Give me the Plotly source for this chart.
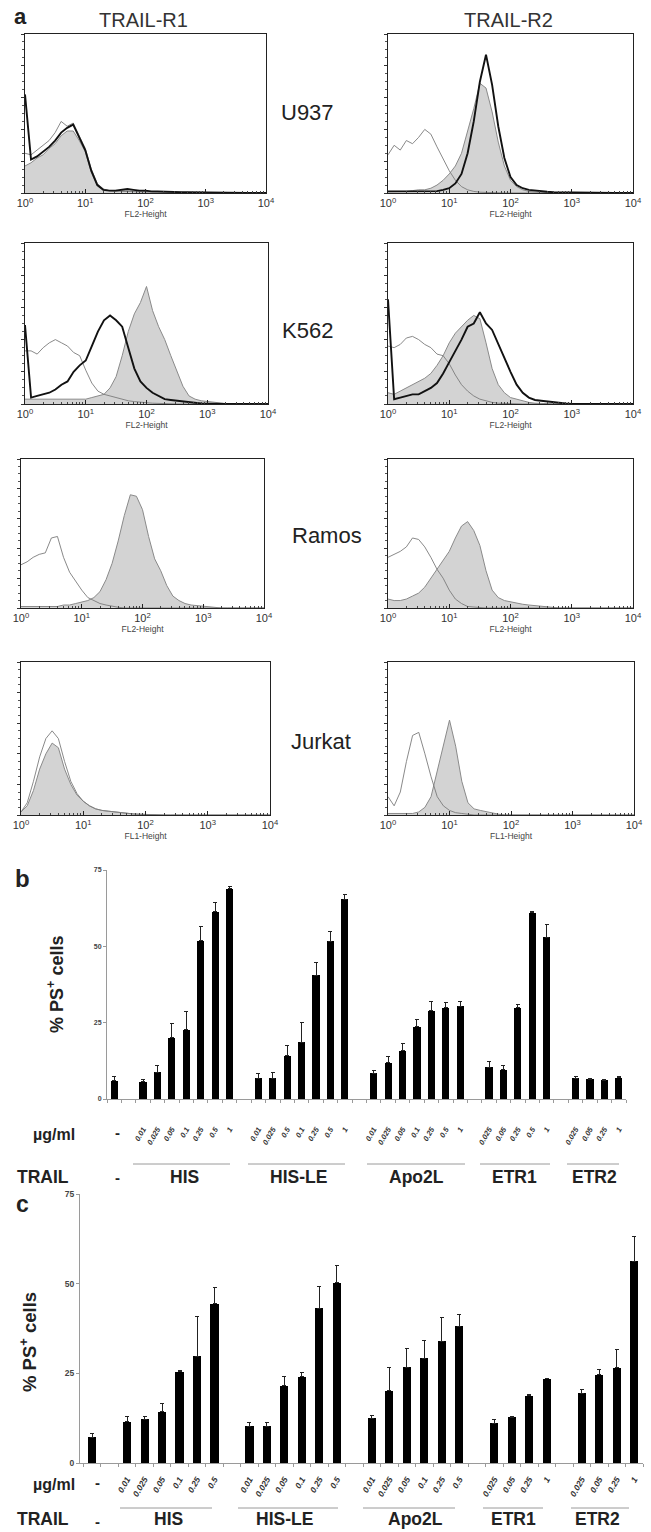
import plotly.graph_objects as go

W, H = 651, 1532
FONT = "Liberation Sans, Arial, Helvetica, sans-serif"

# ---------------- panel a : flow cytometry histograms ----------------
# bin positions in log10 decades (10^0 .. 10^4)
LOG_BINS = [0.0, 0.1, 0.2, 0.3, 0.4, 0.5, 0.6, 0.7, 0.8, 0.9,
            1.0, 1.1, 1.2, 1.3, 1.4, 1.5, 1.6, 1.7, 1.8, 1.9,
            2.0, 2.1, 2.2, 2.3, 2.4, 2.5, 2.6, 2.7, 2.8, 2.9,
            3.0, 3.1, 3.2, 3.3, 3.4, 3.5, 3.6, 3.7, 3.8, 3.9,
            4.0]
DECADE_TICKS = [1, 10, 100, 1000, 10000]
DECADE_TEXT = ["10<sup>0</sup>", "10<sup>1</sup>", "10<sup>2</sup>", "10<sup>3</sup>", "10<sup>4</sup>"]

U937_R1_FILL = [17, 19, 22, 24, 28, 31, 36, 39, 39, 33,
                26, 13, 5, 2, 1.5, 1.5, 1.2, 1.5, 1.2, 1,
                1, 0.8, 0.8, 0.6, 0.6, 0.5, 0.5, 0.4, 0.4, 0.3,
                0.2, 0, 0, 0, 0, 0, 0, 0, 0, 0,
                0]
U937_R1_CTRL = [25, 24, 27, 30, 33, 38, 45, 42, 44, 36,
                28, 15, 6, 2.5, 1.5, 1.2, 1, 1, 0.8, 0.8,
                0.6, 0.5, 0.5, 0.4, 0.3, 0.3, 0.2, 0.2, 0.1, 0,
                0, 0, 0, 0, 0, 0, 0, 0, 0, 0,
                0]
U937_R1_TEST = [62, 21, 23, 26, 29, 33, 38, 41, 43, 35,
                27, 14, 5, 2, 1.5, 1.5, 2, 2.5, 2, 1.5,
                1.5, 1, 1, 0.8, 0.7, 0.6, 0.5, 0.5, 0.4, 0.3,
                0.3, 0.2, 0.1, 0, 0, 0, 0, 0, 0, 0,
                0]

U937_R2_CTRL = [24, 30, 27, 33, 31, 35, 40, 37, 29, 21,
                14, 8, 4, 2, 1, 0.5, 0.3, 0.2, 0.1, 0,
                0, 0, 0, 0, 0, 0, 0, 0, 0, 0,
                0, 0, 0, 0, 0, 0, 0, 0, 0, 0,
                0]
U937_R2_FILL = [1, 1, 1, 1, 1.5, 2, 2, 3, 5, 8,
                12, 17, 25, 39, 53, 69, 66, 51, 32, 17,
                8, 4, 2, 1, 0.6, 0.4, 0.3, 0.2, 0.1, 0,
                0, 0, 0, 0, 0, 0, 0, 0, 0, 0,
                0]
U937_R2_TEST = [1, 1, 1, 0.8, 1, 1, 1, 1, 1.2, 2,
                3, 6, 12, 25, 45, 70, 87, 68, 42, 22,
                10, 5, 3, 2, 1.5, 1, 0.8, 0.5, 0.4, 0.3,
                0.2, 0.1, 0, 0, 0, 0, 0, 0, 0, 0,
                0]

K562_R1_CTRL = [33, 33, 31, 35, 38, 40, 38, 36, 32, 30,
                21, 13, 8, 6, 5, 4, 3, 2, 1.5, 1,
                0.8, 0.5, 0.3, 0.2, 0, 0, 0, 0, 0, 0,
                0, 0, 0, 0, 0, 0, 0, 0, 0, 0,
                0]
K562_R1_FILL = [3, 3, 3, 3, 3, 3, 3, 3, 3, 3,
                3, 4, 5, 6, 10, 17, 30, 45, 56, 63,
                73, 58, 48, 40, 30, 20, 11, 5, 3, 2,
                1.5, 1, 0.5, 0.3, 0, 0, 0, 0, 0, 0,
                0]
K562_R1_TEST = [49, 4, 5, 6, 7, 9, 12, 14, 20, 24,
                27, 36, 45, 52, 55, 52, 48, 35, 22, 14,
                10, 7, 5, 3, 2.5, 2, 1.5, 1, 0.5, 0.3,
                0.2, 0, 0, 0, 0, 0, 0, 0, 0, 0,
                0]

K562_R2_CTRL = [36, 35, 37, 41, 42, 40, 37, 35, 31, 30,
                25, 18, 12, 8, 5, 3, 2, 1, 0.5, 0.3,
                0, 0, 0, 0, 0, 0, 0, 0, 0, 0,
                0, 0, 0, 0, 0, 0, 0, 0, 0, 0,
                0]
K562_R2_FILL = [7, 6, 8, 10, 12, 14, 16, 19, 24, 30,
                38, 44, 48, 52, 55, 53, 38, 22, 12, 7,
                4, 3, 2, 1, 0.5, 0.3, 0, 0, 0, 0,
                0, 0, 0, 0, 0, 0, 0, 0, 0, 0,
                0]
K562_R2_TEST = [65, 3, 4, 5, 6, 6, 8, 10, 13, 19,
                26, 33, 40, 48, 50, 57, 50, 46, 37, 28,
                20, 12, 7, 4, 2.5, 2, 1.5, 1, 0.5, 0.3,
                0, 0, 0, 0, 0, 0, 0, 0, 0, 0,
                0]

RAMOS_R1_CTRL = [29, 31, 34, 36, 37, 47, 48, 34, 24, 18,
                 12, 7, 5, 3, 2, 1, 0.5, 0, 0, 0,
                 0, 0, 0, 0, 0, 0, 0, 0, 0, 0,
                 0, 0, 0, 0, 0, 0, 0, 0, 0, 0,
                 0]
RAMOS_R1_FILL = [1, 1, 1, 1, 1, 1, 1, 2, 2, 3,
                 4, 5, 7, 11, 19, 30, 45, 62, 76, 75,
                 66, 48, 33, 25, 15, 8, 5, 3, 2, 1.5,
                 1, 0.5, 0, 0, 0, 0, 0, 0, 0, 0,
                 0]

RAMOS_R2_CTRL = [34, 36, 38, 41, 47, 46, 41, 34, 26, 20,
                 12, 6, 3, 1, 0.5, 0, 0, 0, 0, 0,
                 0, 0, 0, 0, 0, 0, 0, 0, 0, 0,
                 0, 0, 0, 0, 0, 0, 0, 0, 0, 0,
                 0]
RAMOS_R2_FILL = [6, 5, 5, 6, 8, 10, 14, 20, 26, 32,
                 38, 47, 55, 58, 52, 42, 25, 12, 7, 5,
                 4, 3, 2.5, 2, 1.5, 1, 0.5, 0, 0, 0,
                 0, 0, 0, 0, 0, 0, 0, 0, 0, 0,
                 0]

JURKAT_R1_CTRL = [2, 8, 22, 38, 50, 55, 50, 35, 22, 14,
                  9, 6, 4, 3, 2.5, 2, 1.5, 1, 0.7, 0.5,
                  0.3, 0, 0, 0, 0, 0, 0, 0, 0, 0,
                  0, 0, 0, 0, 0, 0, 0, 0, 0, 0,
                  0]
JURKAT_R1_FILL = [2, 6, 16, 30, 40, 47, 44, 30, 20, 13,
                  9, 6, 4, 3, 2.5, 2, 1.5, 1, 0.7, 0.5,
                  0.3, 0, 0, 0, 0, 0, 0, 0, 0, 0,
                  0, 0, 0, 0, 0, 0, 0, 0, 0, 0,
                  0]

JURKAT_R2_CTRL = [12, 6, 15, 35, 52, 54, 40, 25, 12, 6,
                  3, 1.5, 1, 0.5, 0, 0, 0, 0, 0, 0,
                  0, 0, 0, 0, 0, 0, 0, 0, 0, 0,
                  0, 0, 0, 0, 0, 0, 0, 0, 0, 0,
                  0]
JURKAT_R2_FILL = [1, 1, 1, 1, 1, 2, 5, 12, 28, 45,
                  62, 45, 22, 8, 4, 3, 2, 1, 0.5, 0,
                  0, 0, 0, 0, 0, 0, 0, 0, 0, 0,
                  0, 0, 0, 0, 0, 0, 0, 0, 0, 0,
                  0]

COLUMN_TITLES = ["TRAIL-R1", "TRAIL-R2"]
CELL_LINES = ["U937", "K562", "Ramos", "Jurkat"]
X_TITLES = ["FL2-Height", "FL2-Height", "FL2-Height", "FL1-Height"]

HIST = [  # (filled, control, test)
    (U937_R1_FILL, U937_R1_CTRL, U937_R1_TEST), (U937_R2_FILL, U937_R2_CTRL, U937_R2_TEST),
    (K562_R1_FILL, K562_R1_CTRL, K562_R1_TEST), (K562_R2_FILL, K562_R2_CTRL, K562_R2_TEST),
    (RAMOS_R1_FILL, RAMOS_R1_CTRL, None), (RAMOS_R2_FILL, RAMOS_R2_CTRL, None),
    (JURKAT_R1_FILL, JURKAT_R1_CTRL, None), (JURKAT_R2_FILL, JURKAT_R2_CTRL, None),
]

# ---------------- panels b and c : % PS+ cells ----------------
GROUPS = ["HIS", "HIS-LE", "Apo2L", "ETR1", "ETR2"]

B_CTRL, B_CTRL_ERR = 5.9, 1.4
B_DOSES = [["0.01", "0.025", "0.05", "0.1", "0.25", "0.5", "1"],
           ["0.01", "0.025", "0.5", "0.1", "0.25", "0.5", "1"],
           ["0.01", "0.025", "0.05", "0.1", "0.25", "0.5", "1"],
           ["0.025", "0.05", "0.25", "0.5", "1"],
           ["0.025", "0.05", "0.25", "1"]]
B_VALUES = [[5.7, 8.8, 20.0, 22.6, 51.9, 61.4, 68.8],
            [6.8, 6.8, 14.1, 18.6, 40.6, 51.6, 65.5],
            [8.4, 11.9, 15.8, 23.7, 28.9, 29.9, 30.4],
            [10.4, 9.5, 29.9, 61.0, 53.0],
            [6.8, 6.5, 6.2, 7.0]]
B_ERRORS = [[0.8, 2.1, 4.8, 6.0, 4.5, 2.8, 0.7],
            [1.7, 2.0, 3.3, 6.4, 4.1, 3.1, 1.6],
            [0.9, 2.0, 2.4, 2.4, 3.0, 1.7, 1.5],
            [1.9, 1.4, 1.2, 0.3, 4.0],
            [0.7, 0.3, 0.2, 0.4]]

C_CTRL, C_CTRL_ERR = 7.2, 1.1
C_DOSES = [["0.01", "0.025", "0.05", "0.1", "0.25", "0.5"],
           ["0.01", "0.025", "0.05", "0.1", "0.25", "0.5"],
           ["0.01", "0.025", "0.05", "0.1", "0.25", "0.5"],
           ["0.025", "0.05", "0.25", "1"],
           ["0.025", "0.05", "0.25", "1"]]
C_VALUES = [[11.5, 12.2, 14.3, 25.5, 29.8, 44.4],
            [10.2, 10.2, 21.6, 24.1, 43.1, 50.3],
            [12.5, 20.1, 26.7, 29.2, 33.9, 38.1],
            [11.1, 12.7, 18.7, 23.5],
            [19.5, 24.6, 26.5, 56.2]]
C_ERRORS = [[1.4, 0.7, 2.3, 0.3, 11.0, 4.5],
            [1.2, 1.2, 2.5, 1.0, 6.1, 4.7],
            [0.8, 6.4, 5.2, 5.0, 6.8, 3.3],
            [1.0, 0.3, 0.5, 0.1],
            [0.9, 1.4, 5.1, 6.9]]
Y_TICKS = [0, 25, 50, 75]


def X(p):
    return p / W


def Y(p):
    return 1 - p / H


fig = go.Figure()
annotations = []
shapes = []

# histogram boxes in pixels (x0, x1, ytop, ybottom)
BOXES = [(25, 266, 34, 193), (388, 633, 34, 193),
         (25, 268, 243, 404), (388, 633, 243, 404),
         (21, 264, 459, 608), (388, 633, 459, 608),
         (21, 270, 662, 815), (388, 634, 662, 815)]

minor_vals = [m * 10 ** e for e in range(4) for m in range(2, 10)]
xs = [10 ** d for d in LOG_BINS]

for i, (fill, ctrl, test) in enumerate(HIST):
    n = i + 1
    xa, ya = ("x", "y") if n == 1 else (f"x{n}", f"y{n}")
    fig.add_trace(go.Scatter(x=xs, y=fill, xaxis=xa, yaxis=ya, mode="lines",
                             fill="tozeroy", fillcolor="#d3d3d3",
                             line=dict(color="#8a8a8a", width=1),
                             showlegend=False, hoverinfo="skip"))
    fig.add_trace(go.Scatter(x=xs, y=ctrl, xaxis=xa, yaxis=ya, mode="lines",
                             line=dict(color="#7c7c7c", width=0.9),
                             showlegend=False, hoverinfo="skip"))
    if test is not None:
        fig.add_trace(go.Scatter(x=xs, y=test, xaxis=xa, yaxis=ya, mode="lines",
                                 line=dict(color="#111111", width=1.9),
                                 showlegend=False, hoverinfo="skip"))
    x0, x1, yt, yb = BOXES[i]
    sfx = "" if n == 1 else str(n)
    fig.update_layout(**{
        f"xaxis{sfx}": dict(
            type="log", range=[0, 4], domain=[X(x0), X(x1)], anchor=ya,
            automargin=False,
            showline=True, linecolor="#222", linewidth=1.2, mirror=True,
            ticks="inside", ticklen=4, tickcolor="#222",
            tickvals=DECADE_TICKS, ticktext=DECADE_TEXT,
            tickfont=dict(family=FONT, size=11, color="#333"),
            minor=dict(tickmode="array", tickvals=minor_vals, ticks="inside",
                       ticklen=2, tickcolor="#444", showgrid=False),
            showgrid=False, zeroline=False,
            title=dict(text=X_TITLES[i // 2], font=dict(family=FONT, size=8.5, color="#444"),
                       standoff=0)),
        f"yaxis{sfx}": dict(
            range=[0, 100], domain=[Y(yb), Y(yt)], anchor=xa,
            automargin=False,
            showline=True, linecolor="#222", linewidth=1.4, mirror=True,
            ticks="outside", ticklen=3, tickcolor="#333", dtick=20,
            minor=dict(ticks="outside", ticklen=2, dtick=5, tickcolor="#555"),
            showticklabels=False, showgrid=False, zeroline=False),
    })


# ---------------- bar panels ----------------
def build(ctrl, ctrl_err, doses, values, errors):
    x, y, e, txt = [0], [ctrl], [ctrl_err], [""]
    pos = 2
    for d, v, er in zip(doses, values, errors):
        slots = list(range(pos, pos + len(d)))
        x += slots
        y += v
        e += er
        txt += d
        pos += len(d) + 1
    return x, y, e, txt


BAR_PANELS = [
    dict(data=(B_CTRL, B_CTRL_ERR, B_DOSES, B_VALUES, B_ERRORS), n=9,
         box=(107, 626, 870, 1099), rng=[-0.5, 35.5], width=0.5,
         tickfont=7.5, ytickfont=7, standoff=22),
    dict(data=(C_CTRL, C_CTRL_ERR, C_DOSES, C_VALUES, C_ERRORS), n=10,
         box=(80, 643, 1194, 1463), rng=[-0.69, 31.5], width=0.46,
         tickfont=8.5, ytickfont=8.5, standoff=7),
]

for p in BAR_PANELS:
    x, y, e, txt = build(*p["data"])
    n = p["n"]
    fig.add_trace(go.Bar(x=x, y=y, width=p["width"], xaxis=f"x{n}", yaxis=f"y{n}",
                         marker=dict(color="black", line=dict(width=0)),
                         error_y=dict(type="data", array=e, arrayminus=[0] * len(e),
                                      symmetric=False, color="#222", thickness=1, width=2),
                         showlegend=False, hoverinfo="skip"))
    x0, x1, yt, yb = p["box"]
    fig.update_layout(**{
        f"xaxis{n}": dict(
            domain=[X(x0), X(x1)], range=p["rng"], anchor=f"y{n}",
            automargin=False,
            showline=True, linecolor="#9a9a9a", linewidth=1,
            tickmode="array", tickvals=x, ticktext=txt, ticks="",
            tickangle=-60, ticklabelstandoff=p["standoff"],
            tickfont=dict(family=FONT, size=p["tickfont"], color="#333",
                          weight="bold", style="italic"),
            minor=dict(tickmode="linear", tick0=-0.5, dtick=1, ticks="outside",
                       ticklen=3, tickcolor="#9a9a9a", showgrid=False),
            showgrid=False, zeroline=False),
        f"yaxis{n}": dict(
            domain=[Y(yb), Y(yt)], range=[0, 75], anchor=f"x{n}",
            automargin=False,
            tickmode="array", tickvals=Y_TICKS,
            showline=True, linecolor="#9a9a9a", linewidth=1,
            ticks="outside", ticklen=3, tickcolor="#9a9a9a",
            tickfont=dict(family=FONT, size=p["ytickfont"], color="#444", weight="bold"),
            showgrid=False, zeroline=False),
    })


def ann(text, x, y, size, bold=False, angle=0, color="#222", xanchor="center", yanchor="middle"):
    annotations.append(dict(
        text=text, x=X(x), y=Y(y), xref="paper", yref="paper",
        xanchor=xanchor, yanchor=yanchor, showarrow=False, textangle=angle,
        font=dict(family=FONT, size=size, color=color, weight="bold" if bold else "normal")))


# panel a labels
ann("a", 20, 16, 22, bold=True)
ann(COLUMN_TITLES[0], 143, 20, 20, color="#333")
ann(COLUMN_TITLES[1], 508, 20, 20, color="#333")
for name, xp, yp in zip(CELL_LINES, [307, 307, 327, 321], [113, 330, 535, 742]):
    ann(name, xp, yp, 22, color="#222")

# panel b / c labels
ann("b", 22, 878, 24, bold=True)
ann("c", 22, 1189, 23, bold=True, yanchor="top")
ann("% PS<sup>+</sup> cells", 55, 985, 18, bold=True, angle=-90)
ann("% PS<sup>+</sup> cells", 28, 1342, 18.5, bold=True, angle=-90)

ann("µg/ml", 54, 1134, 16, bold=True)
ann("-", 117, 1132, 15, bold=True)
ann("TRAIL", 43, 1189, 17.5, bold=True, yanchor="bottom")
ann("-", 117, 1177, 15, bold=True)
for g, xp in zip(GROUPS, [184, 298, 416, 514, 594]):
    ann(g, xp, 1189, 17.5, bold=True, yanchor="bottom")
for xa_, xb_ in [(133, 230), (248, 345), (367, 465), (480, 550), (567, 619)]:
    shapes.append(dict(type="line", xref="paper", yref="paper", x0=X(xa_), x1=X(xb_),
                       y0=Y(1164), y1=Y(1164), line=dict(color="#9a9a9a", width=1)))

ann("µg/ml", 54, 1484, 16, bold=True)
ann("-", 97, 1482, 15, bold=True)
ann("TRAIL", 43, 1531, 17.5, bold=True, yanchor="bottom")
ann("-", 97, 1521, 15, bold=True)
for g, xp in zip(GROUPS, [168, 284, 415, 513, 597]):
    ann(g, xp, 1531, 17.5, bold=True, yanchor="bottom")
for xa_, xb_ in [(120, 212), (238, 338), (363, 455), (483, 543), (571, 629)]:
    shapes.append(dict(type="line", xref="paper", yref="paper", x0=X(xa_), x1=X(xb_),
                       y0=Y(1508), y1=Y(1508), line=dict(color="#9a9a9a", width=1)))

fig.update_layout(
    width=W, height=H, margin=dict(l=0, r=0, t=0, b=0),
    paper_bgcolor="white", plot_bgcolor="white",
    font=dict(family=FONT, color="#222"),
    annotations=annotations, shapes=shapes, bargap=0,
)

# the page body has a default 8px margin; remove it so the figure fills the window
fig.write_html("out.html", config={"displayModeBar": False},
               post_script="document.body.style.margin='0px';")
